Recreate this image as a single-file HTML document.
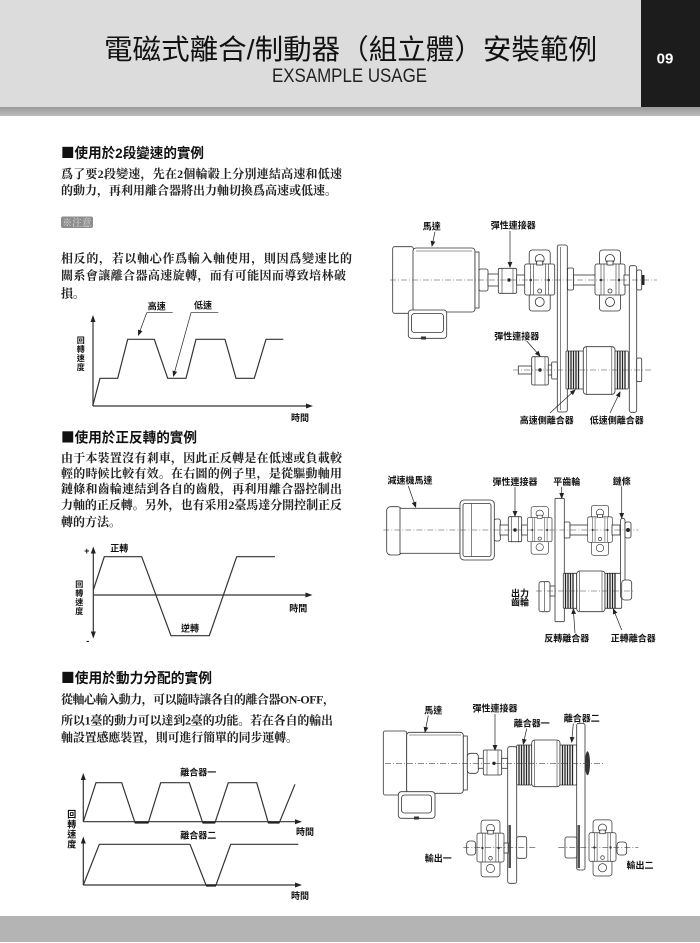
<!DOCTYPE html>
<html><head><meta charset="utf-8">
<style>
html,body{margin:0;padding:0;background:#fff;}
svg{display:block;}
.h{font-family:"Liberation Sans","Noto Sans CJK TC",sans-serif;font-weight:bold;font-size:14px;fill:#111;}
.sq{font-family:"Noto Sans CJK TC",sans-serif;}
.b{font-family:"Liberation Serif","Noto Serif CJK SC",serif;font-weight:bold;font-size:12px;fill:#222;}
.l{font-family:"Liberation Sans","Noto Sans CJK TC",sans-serif;font-weight:bold;font-size:9px;fill:#111;}
.v{font-family:"Liberation Sans","Noto Sans CJK TC",sans-serif;font-weight:bold;font-size:8px;fill:#111;}
.ln{fill:none;stroke:#333;stroke-width:1.2;}
.d{fill:#fff;stroke:#333;stroke-width:0.8;}
.t{stroke:#333;stroke-width:0.6;fill:none;}
.r{stroke:#222;stroke-width:1.3;}
.cl{stroke:#444;stroke-width:0.6;stroke-dasharray:6 2 1 2;fill:none;}
.ld{stroke:#222;stroke-width:0.7;fill:none;}
</style></head><body>
<svg width="700" height="943" viewBox="0 0 700 943" xmlns="http://www.w3.org/2000/svg">
<defs>
<linearGradient id="gs" x1="0" y1="0" x2="0" y2="1"><stop offset="0" stop-color="#9a9a9a"/><stop offset="1" stop-color="#bcbcbc"/></linearGradient>
<marker id="ar" markerWidth="6" markerHeight="6" refX="5" refY="3" orient="auto" markerUnits="userSpaceOnUse"><path d="M0,0.6 L6,3 L0,5.4z" fill="#222"/></marker>
<g id="pb">
<rect x="-10.5" y="-30" width="21" height="61" rx="3" class="d"/>
<circle cx="0" cy="-21" r="4.5" class="d"/>
<circle cx="0" cy="22" r="4.5" class="d"/>
<rect x="-15" y="-16" width="30" height="31" rx="2" class="d"/>
<line x1="-9" y1="-16" x2="-9" y2="15" class="t"/>
<line x1="9" y1="-16" x2="9" y2="15" class="t"/>
<line x1="-6" y1="-16" x2="-6" y2="15" class="t"/>
<line x1="6" y1="-16" x2="6" y2="15" class="t"/>
<rect x="-3" y="-19" width="6" height="4" class="d"/>
<circle cx="-9" cy="0" r="1.3" fill="#333"/>
<circle cx="9" cy="0" r="1.3" fill="#333"/>
<circle cx="0" cy="11" r="2" class="d"/>
</g>
</defs>

<!-- header -->
<rect x="0" y="0" width="700" height="107" fill="#dcdcdc"/>
<rect x="0" y="107" width="700" height="9" fill="url(#gs)"/>
<rect x="641" y="0" width="59" height="107" fill="#1c1c1c"/>
<text x="104" y="59" font-family="Liberation Sans, Noto Sans CJK TC, sans-serif" font-size="28" fill="#111" textLength="493" lengthAdjust="spacingAndGlyphs">電磁式離合/制動器（組立體）安裝範例</text>
<text x="272" y="82" font-family="Liberation Sans, sans-serif" font-size="19" fill="#222" textLength="155" lengthAdjust="spacingAndGlyphs">EXSAMPLE USAGE</text>
<text x="665" y="63.5" font-family="Liberation Sans, sans-serif" font-size="15" font-weight="bold" fill="#fff" text-anchor="middle">09</text>

<!-- footer -->
<rect x="0" y="916" width="700" height="26" fill="#b4b4b4"/>

<!-- section 1 -->
<text class="h" x="61" y="158" textLength="143" lengthAdjust="spacingAndGlyphs"><tspan class="sq">■</tspan>使用於2段變速的實例</text>
<text class="b" x="61" y="178" textLength="281" lengthAdjust="spacing">爲了要2段變速，先在2個輪轂上分別連結高速和低速</text>
<text class="b" x="61" y="194.5" textLength="276" lengthAdjust="spacing">的動力，再利用離合器將出力軸切換爲高速或低速。</text>
<rect x="61" y="216.5" width="32" height="11.5" rx="2" fill="#8d8d8d"/>
<text x="62.5" y="226" font-family="Liberation Serif, Noto Serif CJK SC, serif" font-size="10.5" fill="#d8d8d8" textLength="29" lengthAdjust="spacingAndGlyphs">※注意</text>
<text class="b" x="61" y="262.5" textLength="291" lengthAdjust="spacing">相反的，若以軸心作爲輸入軸使用，則因爲變速比的</text>
<text class="b" x="61" y="279.5" textLength="285" lengthAdjust="spacing">關系會讓離合器高速旋轉，而有可能因而導致培林破</text>
<text class="b" x="61" y="297.5">損。</text>

<!-- chart 1 -->
<line x1="93" y1="406" x2="93" y2="320" class="ln"/>
<path d="M93,315 L90.5,322 L95.5,322z" fill="#222"/>
<line x1="93" y1="406" x2="308" y2="406" class="ln"/>
<path d="M313,406 L306,403.5 L306,408.5z" fill="#222"/>
<polyline class="ln" points="92.7,406 100,378.3 117.7,378.3 127.7,339.3 154.3,339.3 167.7,378.3 186,378.3 196,339.3 225,339.3 236,378.3 254.3,378.3 266,339.3 283.3,339.3"/>
<polyline class="ld" points="172.7,312.7 146.7,312.7 138.5,335" marker-end="url(#ar)"/>
<polyline class="ld" points="218.3,312.7 191,312.7 173.5,376" marker-end="url(#ar)"/>
<text class="l" x="156.7" y="309.4" text-anchor="middle">高速</text>
<text class="l" x="203" y="308.4" text-anchor="middle">低速</text>
<text class="v" x="80.7" y="343" text-anchor="middle">回</text>
<text class="v" x="80.7" y="352" text-anchor="middle">轉</text>
<text class="v" x="80.7" y="361" text-anchor="middle">速</text>
<text class="v" x="80.7" y="370" text-anchor="middle">度</text>
<text class="l" x="300" y="421" text-anchor="middle">時間</text>

<!-- section 2 -->
<text class="h" x="61" y="442.6" textLength="136" lengthAdjust="spacingAndGlyphs"><tspan class="sq">■</tspan>使用於正反轉的實例</text>
<text class="b" x="61" y="462" textLength="281" lengthAdjust="spacing">由于本裝置沒有剎車，因此正反轉是在低速或負載較</text>
<text class="b" x="61" y="477.5" textLength="281" lengthAdjust="spacing">輕的時候比較有效。在右圖的例子里，是從驅動軸用</text>
<text class="b" x="61" y="493" textLength="281" lengthAdjust="spacing">鏈條和齒輪連結到各自的齒般，再利用離合器控制出</text>
<text class="b" x="61" y="509" textLength="281" lengthAdjust="spacing">力軸的正反轉。另外，也有采用2臺馬達分開控制正反</text>
<text class="b" x="61" y="526">轉的方法。</text>

<!-- chart 2 -->
<line x1="93.3" y1="551" x2="93.3" y2="634" class="ln"/>
<path d="M93.3,546.5 L90.8,553.5 L95.8,553.5z" fill="#222"/>
<path d="M93.3,638.5 L90.8,631.5 L95.8,631.5z" fill="#222"/>
<text class="l" x="86.7" y="554" text-anchor="middle" font-size="8">+</text>
<text class="l" x="87.7" y="644" text-anchor="middle" font-size="8">-</text>
<line x1="93.3" y1="595" x2="308" y2="595" class="ln"/>
<path d="M312.5,595 L305.5,592.5 L305.5,597.5z" fill="#222"/>
<polyline class="ln" points="93.3,590 104.3,556.7 141.7,556.7 171,635.7 209.3,635.7 236.7,556.7 275,556.7"/>
<text class="l" x="119.3" y="551.7" text-anchor="middle">正轉</text>
<text class="l" x="190" y="631.7" text-anchor="middle">逆轉</text>
<text class="l" x="298.3" y="611.7" text-anchor="middle">時間</text>
<text class="v" x="79.3" y="587" text-anchor="middle">回</text>
<text class="v" x="79.3" y="596" text-anchor="middle">轉</text>
<text class="v" x="79.3" y="605" text-anchor="middle">速</text>
<text class="v" x="79.3" y="614" text-anchor="middle">度</text>

<!-- section 3 -->
<text class="h" x="61" y="683" textLength="151" lengthAdjust="spacingAndGlyphs"><tspan class="sq">■</tspan>使用於動力分配的實例</text>
<text class="b" x="61" y="703.5" textLength="274" lengthAdjust="spacing">從軸心輸入動力，可以隨時讓各自的離合器ON-OFF，</text>
<text class="b" x="61" y="724.5" textLength="272" lengthAdjust="spacing">所以1臺的動力可以達到2臺的功能。若在各自的輸出</text>
<text class="b" x="61" y="741.3" textLength="237" lengthAdjust="spacing">軸設置感應裝置，則可進行簡單的同步運轉。</text>

<!-- chart 3a -->
<line x1="83.3" y1="821.7" x2="83.3" y2="778" class="ln"/>
<path d="M83.3,773 L80.8,780 L85.8,780z" fill="#222"/>
<line x1="83.3" y1="821.7" x2="298" y2="821.7" class="ln"/>
<path d="M302,821.7 L295,819.2 L295,824.2z" fill="#222"/>
<polyline class="ln" points="83.3,821.7 96,782.7 121.7,782.7 135,822.7 148.3,822.7 160.7,782.7 189.3,782.7 202.7,822.7 215,822.7 228.3,782.7 256.7,782.7 268.3,822.7 279.3,822.7 295,784.3"/>
<line x1="135" y1="822.5" x2="148.3" y2="822.5" stroke="#222" stroke-width="2.2"/>
<line x1="202.7" y1="822.5" x2="215" y2="822.5" stroke="#222" stroke-width="2.2"/>
<line x1="268.3" y1="822.5" x2="279.3" y2="822.5" stroke="#222" stroke-width="2.2"/>
<text class="l" x="198.3" y="775.7" text-anchor="middle">離合器一</text>
<text class="l" x="305" y="835" text-anchor="middle">時間</text>
<text class="l" x="71.7" y="817.7" text-anchor="middle">回</text>
<text class="l" x="71.7" y="827.4" text-anchor="middle">轉</text>
<text class="l" x="71.7" y="837.4" text-anchor="middle">速</text>
<text class="l" x="71.7" y="847.4" text-anchor="middle">度</text>

<!-- chart 3b -->
<line x1="83.3" y1="885" x2="83.3" y2="841" class="ln"/>
<path d="M83.3,836.5 L80.8,843.5 L85.8,843.5z" fill="#222"/>
<line x1="83.3" y1="885" x2="298" y2="885" class="ln"/>
<path d="M302,885 L295,882.5 L295,887.5z" fill="#222"/>
<polyline class="ln" points="83.3,885 99.3,844.3 190,844.3 206,885 216,885 230.7,844.3 298.3,844.3"/>
<line x1="206" y1="885.5" x2="216" y2="885.5" stroke="#222" stroke-width="2.2"/>
<text class="l" x="198.3" y="838.4" text-anchor="middle">離合器二</text>
<text class="l" x="300" y="899" text-anchor="middle">時間</text>

<!-- ============ DIAGRAM 1 ============ -->
<rect class="d" x="392.7" y="246.7" width="20.6" height="66.6" rx="2"/>
<rect class="d" x="413" y="248" width="62" height="64" rx="3"/>
<line x1="416" y1="251" x2="472" y2="251" class="t"/>
<rect class="d" x="475" y="252" width="4" height="56"/>
<rect class="d" x="408.3" y="310" width="38.4" height="28.3" rx="3"/>
<rect class="d" x="411.5" y="313.5" width="32" height="19" rx="3"/>
<rect x="421" y="336.5" width="5" height="3" fill="#333"/>
<rect class="d" x="479" y="269" width="9" height="22" rx="2"/>
<rect class="d" x="488" y="274" width="11" height="12"/>
<rect class="d" x="498.3" y="268.3" width="18.4" height="25" rx="1.5"/>
<line x1="502" y1="268.3" x2="502" y2="293.3" class="t"/>
<line x1="513" y1="268.3" x2="513" y2="293.3" class="t"/>
<circle cx="509" cy="280" r="1.7" fill="#222"/>
<rect class="d" x="516.7" y="275" width="9" height="10"/>
<use href="#pb" x="539.7" y="280"/>
<rect class="d" x="557.3" y="245" width="10" height="167" rx="2"/>
<line x1="560.5" y1="247" x2="560.5" y2="410" class="t"/>
<rect class="d" x="567.5" y="268" width="6" height="22" rx="1.5"/>
<rect class="d" x="573.5" y="275" width="24" height="10"/>
<use href="#pb" x="610" y="280"/>
<rect class="d" x="624" y="275" width="6" height="10"/>
<rect class="d" x="629.3" y="265.7" width="7.4" height="146.6" rx="2"/>
<rect class="d" x="636.7" y="270" width="5" height="20" rx="1.5"/>
<rect x="641.5" y="275" width="3" height="10" fill="#222"/>
<!-- lower -->
<rect class="d" x="518.3" y="366" width="13.4" height="8"/>
<rect class="d" x="531.7" y="356.7" width="16.6" height="28.3" rx="1.5"/>
<line x1="535" y1="356.7" x2="535" y2="385" class="t"/>
<line x1="545" y1="356.7" x2="545" y2="385" class="t"/>
<circle cx="540" cy="370" r="1.7" fill="#222"/>
<rect class="d" x="548.3" y="365" width="4" height="10"/>
<rect class="d" x="551.7" y="362" width="5.6" height="17" rx="1"/>
<rect class="d" x="566" y="351" width="17.3" height="38" rx="1"/>
<line x1="568.5" y1="351" x2="568.5" y2="389" class="r"/>
<line x1="571" y1="351" x2="571" y2="389" class="r"/>
<line x1="573.5" y1="351" x2="573.5" y2="389" class="r"/>
<line x1="576" y1="351" x2="576" y2="389" class="r"/>
<line x1="578.5" y1="351" x2="578.5" y2="389" class="r"/>
<rect class="d" x="583.3" y="346.7" width="31.7" height="47.6" rx="3"/>
<line x1="586.5" y1="347" x2="586.5" y2="394" class="t"/>
<line x1="611.8" y1="347" x2="611.8" y2="394" class="t"/>
<rect class="d" x="615" y="351" width="13.3" height="38" rx="1"/>
<line x1="617.5" y1="351" x2="617.5" y2="389" class="r"/>
<line x1="620" y1="351" x2="620" y2="389" class="r"/>
<line x1="622.5" y1="351" x2="622.5" y2="389" class="r"/>
<line x1="625" y1="351" x2="625" y2="389" class="r"/>
<rect class="d" x="636.7" y="358" width="5" height="23.7" rx="1.5"/>
<line x1="390" y1="280" x2="657" y2="280" class="cl"/>
<line x1="513" y1="370" x2="653" y2="370" class="cl"/>
<text class="l" x="431.7" y="229.4" text-anchor="middle">馬達</text>
<line x1="435" y1="231.7" x2="432" y2="246" class="ld" marker-end="url(#ar)"/>
<text class="l" x="513.3" y="228.4" text-anchor="middle">彈性連接器</text>
<line x1="510" y1="231" x2="510" y2="267" class="ld" marker-end="url(#ar)"/>
<text class="l" x="516.7" y="339.4" text-anchor="middle">彈性連接器</text>
<line x1="526.7" y1="341" x2="540" y2="356" class="ld" marker-end="url(#ar)"/>
<text class="l" x="546.7" y="423.4" text-anchor="middle">高速側離合器</text>
<line x1="550" y1="413" x2="575" y2="390" class="ld" marker-end="url(#ar)"/>
<text class="l" x="616.7" y="423.4" text-anchor="middle">低速側離合器</text>
<line x1="610" y1="413" x2="620" y2="392" class="ld" marker-end="url(#ar)"/>

<!-- ============ DIAGRAM 2 ============ -->
<rect class="d" x="386.7" y="506.7" width="15" height="48.3" rx="4"/>
<rect class="d" x="400" y="508.3" width="60" height="45"/>
<rect class="d" x="460" y="500" width="34.3" height="60" rx="4"/>
<rect class="d" x="463" y="503.5" width="28" height="53" rx="2"/>
<line x1="471.7" y1="503.5" x2="471.7" y2="556.5" class="t"/>
<rect class="d" x="494.3" y="519" width="6" height="22" rx="2"/>
<rect class="d" x="500" y="525" width="9" height="10"/>
<rect class="d" x="508.3" y="516.7" width="13.4" height="25" rx="1.5"/>
<line x1="511.5" y1="516.7" x2="511.5" y2="541.7" class="t"/>
<line x1="518.5" y1="516.7" x2="518.5" y2="541.7" class="t"/>
<circle cx="515" cy="530" r="1.7" fill="#222"/>
<rect class="d" x="521.7" y="525" width="8" height="10"/>
<use href="#pb" transform="translate(539.7,530) scale(0.82,0.78)"/>
<rect class="d" x="555" y="498.3" width="9.3" height="123.4" rx="1"/>
<rect class="d" x="564.3" y="522" width="5.7" height="16" rx="1"/>
<rect class="d" x="570" y="525" width="19" height="10"/>
<use href="#pb" transform="translate(600,530) scale(0.82,0.82)"/>
<rect class="d" x="612" y="525" width="8" height="10"/>
<!-- lower -->
<rect class="d" x="539" y="581.7" width="11" height="30" rx="2"/>
<line x1="544.5" y1="582" x2="544.5" y2="611" class="t"/>
<rect class="d" x="550" y="586" width="5" height="10"/>
<rect class="d" x="563.3" y="573.3" width="13.4" height="35" rx="1"/>
<line x1="565.5" y1="573.3" x2="565.5" y2="608.3" class="r"/>
<line x1="568" y1="573.3" x2="568" y2="608.3" class="r"/>
<line x1="570.5" y1="573.3" x2="570.5" y2="608.3" class="r"/>
<line x1="573" y1="573.3" x2="573" y2="608.3" class="r"/>
<rect class="d" x="576.7" y="571" width="28.3" height="40.7" rx="3"/>
<line x1="579.5" y1="571.5" x2="579.5" y2="611" class="t"/>
<line x1="602" y1="571.5" x2="602" y2="611" class="t"/>
<rect class="d" x="605" y="573.3" width="16.7" height="35" rx="1"/>
<line x1="607.5" y1="573.3" x2="607.5" y2="608.3" class="r"/>
<line x1="610" y1="573.3" x2="610" y2="608.3" class="r"/>
<line x1="612.5" y1="573.3" x2="612.5" y2="608.3" class="r"/>
<line x1="615" y1="573.3" x2="615" y2="608.3" class="r"/>
<rect class="d" x="620.5" y="518.3" width="4.5" height="80" rx="2.2"/>
<rect class="d" x="625" y="522" width="6" height="16" rx="2"/>
<circle cx="628" cy="530" r="2" fill="#222"/>
<rect class="d" x="621.7" y="580" width="10" height="20" rx="3"/>
<line x1="383.3" y1="530" x2="638.3" y2="530" class="cl"/>
<line x1="536" y1="591" x2="635" y2="591" class="cl"/>
<text class="l" x="410" y="483.4" text-anchor="middle">減速機馬達</text>
<line x1="408.3" y1="486" x2="415.7" y2="507" class="ld" marker-end="url(#ar)"/>
<text class="l" x="515" y="485.1" text-anchor="middle">彈性連接器</text>
<line x1="515" y1="487" x2="515" y2="516" class="ld" marker-end="url(#ar)"/>
<text class="l" x="566.7" y="485.1" text-anchor="middle">平齒輪</text>
<line x1="561.7" y1="487" x2="561.7" y2="498" class="ld" marker-end="url(#ar)"/>
<text class="l" x="621.7" y="484.4" text-anchor="middle">鏈條</text>
<line x1="621.7" y1="486.5" x2="621.7" y2="518" class="ld" marker-end="url(#ar)"/>
<text class="l" x="520" y="596.5" text-anchor="middle" font-size="8.5">出力</text>
<text class="l" x="520" y="605.5" text-anchor="middle" font-size="8.5">齒輪</text>
<text class="l" x="566.7" y="641.7" text-anchor="middle">反轉離合器</text>
<line x1="575" y1="633" x2="573.3" y2="609" class="ld" marker-end="url(#ar)"/>
<text class="l" x="633.3" y="641.7" text-anchor="middle">正轉離合器</text>
<line x1="621.7" y1="630" x2="613.3" y2="609" class="ld" marker-end="url(#ar)"/>

<!-- ============ DIAGRAM 3 ============ -->
<rect class="d" x="383.3" y="731" width="23.4" height="64" rx="2"/>
<rect class="d" x="406.7" y="732.3" width="56.6" height="61" rx="3"/>
<line x1="409" y1="735" x2="461" y2="735" class="t"/>
<rect class="d" x="463.3" y="736" width="4" height="54"/>
<rect class="d" x="398.3" y="791.7" width="36.7" height="26.6" rx="3"/>
<rect class="d" x="401.5" y="795" width="30" height="18" rx="3"/>
<rect x="414" y="816.5" width="5" height="3" fill="#333"/>
<rect class="d" x="467.3" y="753.3" width="11" height="20" rx="3"/>
<rect class="d" x="478.3" y="758.3" width="6" height="10"/>
<rect class="d" x="483.3" y="750" width="18.4" height="25" rx="1.5"/>
<line x1="487" y1="750" x2="487" y2="775" class="t"/>
<line x1="498" y1="750" x2="498" y2="775" class="t"/>
<circle cx="494" cy="763.3" r="1.7" fill="#222"/>
<rect class="d" x="501.7" y="758.3" width="6" height="10"/>
<rect class="d" x="507.7" y="746.7" width="9" height="136.6" rx="2"/>
<rect x="508.5" y="825" width="2.5" height="43" fill="#555"/>
<rect class="d" x="516.7" y="745" width="15" height="40" rx="1"/>
<line x1="519" y1="745" x2="519" y2="785" class="r"/>
<line x1="521.5" y1="745" x2="521.5" y2="785" class="r"/>
<line x1="524" y1="745" x2="524" y2="785" class="r"/>
<line x1="526.5" y1="745" x2="526.5" y2="785" class="r"/>
<line x1="529" y1="745" x2="529" y2="785" class="r"/>
<rect class="d" x="531.7" y="740" width="28.3" height="46.7" rx="3"/>
<line x1="534.5" y1="740.5" x2="534.5" y2="786" class="t"/>
<line x1="557" y1="740.5" x2="557" y2="786" class="t"/>
<rect class="d" x="560" y="745" width="16.7" height="40" rx="1"/>
<line x1="562.5" y1="745" x2="562.5" y2="785" class="r"/>
<line x1="565" y1="745" x2="565" y2="785" class="r"/>
<line x1="567.5" y1="745" x2="567.5" y2="785" class="r"/>
<line x1="570" y1="745" x2="570" y2="785" class="r"/>
<line x1="572.5" y1="745" x2="572.5" y2="785" class="r"/>
<rect class="d" x="576.7" y="723.3" width="8.3" height="146.7" rx="2"/>
<rect x="577.5" y="825" width="2.5" height="43" fill="#555"/>
<ellipse cx="587.5" cy="763.3" rx="2.5" ry="12" fill="#333"/>
<!-- outputs -->
<rect class="d" x="466.7" y="841" width="9" height="14" rx="3"/>
<use href="#pb" transform="translate(490.5,848) scale(0.9,0.93)"/>
<rect class="d" x="504" y="843" width="4" height="10"/>
<rect class="d" x="516.7" y="836.7" width="10" height="21.6" rx="2"/>
<rect class="d" x="565" y="837" width="11.7" height="21" rx="2"/>
<use href="#pb" transform="translate(602.5,847.5) scale(0.9,0.92)"/>
<rect class="d" x="617" y="842" width="9.7" height="13" rx="3"/>
<line x1="385" y1="763.3" x2="605" y2="763.3" class="cl"/>
<line x1="463.3" y1="847.7" x2="536.7" y2="847.7" class="cl"/>
<line x1="558.3" y1="847.7" x2="638.3" y2="847.7" class="cl"/>
<text class="l" x="433.3" y="713.4" text-anchor="middle">馬達</text>
<line x1="428.3" y1="715.5" x2="425" y2="732" class="ld" marker-end="url(#ar)"/>
<text class="l" x="495" y="711.7" text-anchor="middle">彈性連接器</text>
<line x1="495" y1="714" x2="495" y2="750" class="ld" marker-end="url(#ar)"/>
<text class="l" x="531.7" y="726.7" text-anchor="middle">離合器一</text>
<line x1="526.7" y1="728.5" x2="523.3" y2="744" class="ld" marker-end="url(#ar)"/>
<text class="l" x="581.7" y="721.7" text-anchor="middle">離合器二</text>
<line x1="573.3" y1="723.5" x2="571.7" y2="742" class="ld" marker-end="url(#ar)"/>
<text class="l" x="438.3" y="861.7" text-anchor="middle">輸出一</text>
<text class="l" x="640" y="868.4" text-anchor="middle">輸出二</text>
</svg>
</body></html>
